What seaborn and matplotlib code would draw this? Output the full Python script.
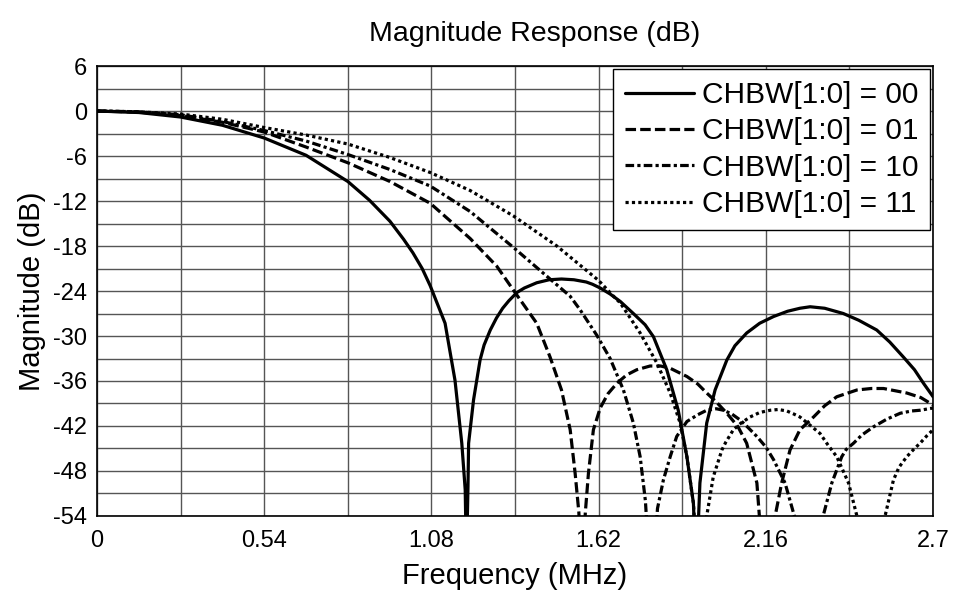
import numpy as np
import pandas as pd
import matplotlib
matplotlib.use('Agg')
import matplotlib.pyplot as plt
import seaborn as sns

# values (MHz, dB); points below -54 sit under the axis floor
freq_00 = [0.0, 0.135, 0.27, 0.405, 0.54, 0.675, 0.81, 0.88, 0.946, 0.99, 1.02, 1.05,
           1.076, 1.124, 1.156, 1.178, 1.189, 1.193, 1.198, 1.2, 1.216, 1.237, 1.25, 1.27,
           1.29, 1.31, 1.33, 1.356, 1.38, 1.42, 1.46, 1.5, 1.54, 1.58, 1.6, 1.625, 1.657,
           1.69, 1.732, 1.77, 1.797, 1.84, 1.877, 1.905, 1.926, 1.935, 1.947, 1.969, 1.996,
           2.034, 2.06, 2.098, 2.14, 2.185, 2.23, 2.27, 2.303, 2.35, 2.41, 2.46, 2.518,
           2.56, 2.604, 2.64, 2.669, 2.7]
mag_00 = [0.0, -0.2, -0.8, -1.9, -3.6, -5.9, -9.4, -11.9, -14.7, -17.1, -18.9, -21.0,
          -23.3, -28.3, -35.9, -44.3, -50.5, -60.0, -50.0, -44.3, -38.5, -33.2, -31.2, -29.2,
          -27.6, -26.3, -25.3, -24.2, -23.6, -22.9, -22.5, -22.4, -22.5, -22.8, -23.1, -23.6, -24.4,
          -25.4, -27.0, -28.5, -30.1, -34.5, -39.9, -46.1, -52.3, -62.0, -49.6, -41.6, -37.2,
          -33.2, -31.3, -29.6, -28.3, -27.4, -26.7, -26.3, -26.1, -26.3, -27.0, -27.9, -29.2,
          -30.8, -32.8, -34.5, -36.3, -38.1]

freq_01 = [0.0, 0.135, 0.27, 0.405, 0.54, 0.675, 0.81, 0.946, 1.076, 1.205, 1.291, 1.35,
           1.42, 1.463, 1.5, 1.528, 1.544, 1.556, 1.566, 1.577, 1.587, 1.603, 1.625, 1.65,
           1.679, 1.71, 1.743, 1.786, 1.82, 1.851, 1.905, 1.94, 1.969, 2.0, 2.034, 2.07,
           2.098, 2.131, 2.139, 2.165, 2.19, 2.211, 2.238, 2.27, 2.314, 2.35, 2.389, 2.454,
           2.5, 2.54, 2.615, 2.66, 2.7]
mag_01 = [0.0, -0.15, -0.6, -1.5, -2.8, -4.8, -6.9, -9.4, -12.3, -17.0, -20.7, -24.2,
          -28.3, -32.8, -37.2, -42.5, -48.3, -53.5, -62.0, -53.5, -48.3, -42.5, -39.6, -37.7,
          -36.3, -35.2, -34.5, -34.0, -34.0, -34.3, -35.4, -36.4, -37.6, -38.8, -40.3, -42.1,
          -44.3, -49.6, -54.0, -65.0, -54.0, -49.6, -45.2, -42.5, -40.8, -39.3, -38.1, -37.2,
          -37.0, -37.0, -37.6, -38.2, -39.2]

freq_10 = [0.0, 0.135, 0.27, 0.405, 0.54, 0.675, 0.81, 0.946, 1.076, 1.205, 1.345, 1.463,
           1.528, 1.56, 1.614, 1.657, 1.7, 1.732, 1.754, 1.771, 1.79, 1.81, 1.829, 1.851,
           1.872, 1.89, 1.905, 1.94, 1.969, 2.0, 2.023, 2.05, 2.077, 2.1, 2.131, 2.16,
           2.185, 2.222, 2.252, 2.3, 2.345, 2.373, 2.405, 2.42, 2.443, 2.47, 2.508, 2.55,
           2.594, 2.63, 2.658, 2.7]
mag_10 = [0.0, -0.1, -0.5, -1.4, -2.6, -4.0, -5.8, -7.8, -10.0, -13.4, -18.2, -22.4,
          -24.7, -26.5, -29.9, -33.0, -37.2, -41.6, -46.1, -52.0, -65.0, -53.0, -49.2, -46.1,
          -43.4, -42.3, -41.4, -40.5, -39.9, -39.7, -39.9, -40.4, -41.2, -42.1, -43.4, -44.8,
          -46.5, -49.6, -54.0, -75.0, -54.0, -49.6, -46.1, -45.1, -44.3, -43.2, -42.1, -41.1,
          -40.3, -40.0, -39.9, -39.6]

freq_11 = [0.0, 0.135, 0.27, 0.405, 0.54, 0.675, 0.81, 0.946, 1.076, 1.205, 1.345, 1.485,
           1.62, 1.668, 1.69, 1.754, 1.808, 1.851, 1.883, 1.905, 1.926, 1.945, 1.969, 1.99,
           2.018, 2.03, 2.055, 2.08, 2.109, 2.14, 2.174, 2.2, 2.228, 2.25, 2.27, 2.3, 2.335,
           2.36, 2.389, 2.427, 2.454, 2.5, 2.545, 2.572, 2.59, 2.615, 2.64, 2.658, 2.68, 2.7]
mag_11 = [0.0, -0.1, -0.4, -1.1, -2.2, -3.2, -4.4, -6.2, -8.2, -10.6, -14.0, -18.0,
          -22.6, -24.7, -25.6, -29.6, -33.6, -37.6, -41.6, -46.1, -52.3, -65.0, -54.0, -48.8,
          -45.2, -44.2, -42.5, -41.6, -40.8, -40.2, -39.9, -39.8, -40.0, -40.4, -40.8, -41.8, -43.0,
          -44.5, -46.1, -49.6, -54.0, -75.0, -54.0, -49.2, -47.5, -46.1, -45.0, -44.3, -43.3, -42.5]

labels = ['CHBW[1:0] = 00', 'CHBW[1:0] = 01', 'CHBW[1:0] = 10', 'CHBW[1:0] = 11']
x_ticks = [0, 0.54, 1.08, 1.62, 2.16, 2.7]
x_ticklabels = ['0', '0.54', '1.08', '1.62', '2.16', '2.7']
y_ticks = [6, 0, -6, -12, -18, -24, -30, -36, -42, -48, -54]
y_ticklabels = ['6', '0', '-6', '-12', '-18', '-24', '-30', '-36', '-42', '-48', '-54']

sns.set_style('white')
plt.rcParams['font.family'] = ['Liberation Sans', 'DejaVu Sans']
plt.rcParams['text.color'] = 'black'
plt.rcParams['axes.labelcolor'] = 'black'
plt.rcParams['xtick.color'] = 'black'
plt.rcParams['ytick.color'] = 'black'

fig = plt.figure(figsize=(9.57, 6.03), dpi=100)
ax = fig.add_axes([0.1014, 0.1443, 0.8736, 0.7462])

series = [(freq_00, mag_00, '-'),
          (freq_01, mag_01, (0, (3.3, 1.3))),
          (freq_10, mag_10, (0, (2.7, 1.0, 1.0, 1.0))),
          (freq_11, mag_11, (0, (1.0, 1.0)))]

for (f, m, ls), lab in zip(series, labels):
    df = pd.DataFrame({'freq': f, 'mag': m})
    sns.lineplot(data=df, x='freq', y='mag', ax=ax, color='black', linewidth=2.3,
                 linestyle=ls, label=lab, sort=False, estimator=None)

ax.set_xlim(0, 2.7)
ax.set_ylim(-54, 6)
ax.set_xticks(x_ticks)
ax.set_xticklabels(x_ticklabels)
ax.set_xticks(np.arange(0.27, 2.7, 0.54), minor=True)
ax.set_yticks(y_ticks)
ax.set_yticklabels(y_ticklabels)
ax.set_yticks(np.arange(3, -54, -6), minor=True)
ax.tick_params(which='both', length=0, labelsize=17)
ax.tick_params(axis='x', pad=10)
ax.tick_params(axis='y', pad=7)
ax.grid(True, which='both', color='#555555', linewidth=1.0)
ax.set_axisbelow(True)
for sp in ax.spines.values():
    sp.set_color('black')
    sp.set_linewidth(1.2)

ax.set_xlabel('Frequency (MHz)', fontsize=21, labelpad=7)
ax.set_ylabel('Magnitude (dB)', fontsize=21, labelpad=5)
ax.set_title('Magnitude Response (dB)', fontsize=20.5, pad=18, x=0.523)

leg = ax.legend(loc='upper right', bbox_to_anchor=(1.0, 1.0), fontsize=21.5,
                handlelength=2.33, handletextpad=0.25, labelspacing=0.28,
                borderpad=0.4, borderaxespad=0.1, fancybox=False, framealpha=1.0,
                edgecolor='black')
leg.get_frame().set_linewidth(1.0)

fig.savefig('out.png', dpi=100)
